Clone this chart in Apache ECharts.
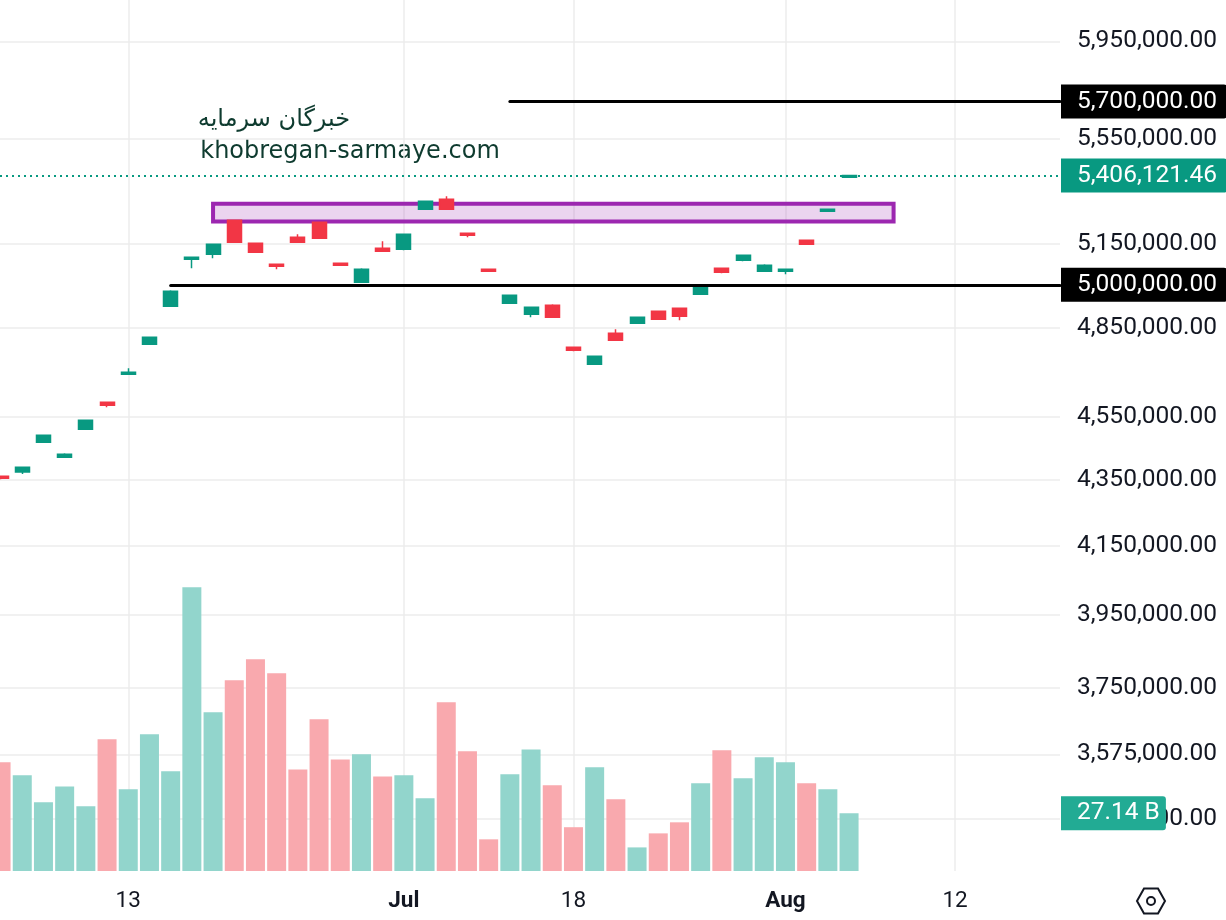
<!DOCTYPE html>
<html>
<head>
    <meta charset="utf-8">
    <title>khobregan-sarmaye</title>
    <script src="https://cdn.jsdelivr.net/npm/echarts@6.0.0/dist/echarts.min.js"></script>
    <style>html, body { margin: 0; padding: 0; background: #fff; }</style>
</head>
<body>
<div id="main" style="width: 1226px;height:920px"></div>
<script type="text/javascript">

    // daily candles (index = trading day on the x axis)
    var openP = [4360600, 4374000, 4467900, 4420200, 4509500, 4597300, 4690300, 4791800, 4923700, 5091800,
        5110000, 5235700, 5150400, 5073700, 5172500, 5228300, 5077300, 5008900, 5132000, 5128400,
        5277000, 5314800, 5187300, 5055700, 4934300, 4895700, 4927300, 4781600, 4723900, 4829700,
        4864200, 4906200, 4916700, 4966100, 5059200, 5088300, 5048400, 5048400, 5161400, 5269500, 5399000];
    var closeP = [4354400, 4388800, 4490200, 4429700, 4538600, 4587500, 4696900, 4815900, 4976800, 5099100,
        5146700, 5154100, 5117400, 5066500, 5154100, 5168800, 5070100, 5055700, 5121000, 5183600,
        5307200, 5277000, 5179900, 5048400, 4962600, 4920200, 4885200, 4771400, 4751000, 4805600,
        4885200, 4878200, 4888700, 4998100, 5044800, 5106400, 5070100, 5055700, 5146700, 5277000, 5406121.46];
    var lowP = [4351200, 4367800, 4467900, 4420200, 4509500, 4581000, 4690300, 4791800, 4923700, 5059200,
        5095500, 5154100, 5117400, 5055700, 5154100, 5168800, 5070100, 5008900, 5121000, 5124700,
        5277000, 5277000, 5172500, 5048400, 4934300, 4885200, 4885200, 4768000, 4723900, 4805600,
        4864200, 4878200, 4874700, 4966100, 5041200, 5084600, 5048400, 5037600, 5146700, 5269500, 5399000];
    var highP = [4360600, 4388800, 4490200, 4433000, 4538600, 4597300, 4710400, 4815900, 4980300, 5099100,
        5146700, 5235700, 5150400, 5073700, 5183600, 5228300, 5077300, 5059200, 5157800, 5183600,
        5307200, 5326200, 5187300, 5055700, 4962600, 4920200, 4930800, 4781600, 4751000, 4843500,
        4885200, 4906200, 4916700, 4998100, 5059200, 5106400, 5073700, 5055700, 5161400, 5277000, 5406121.46];
    // volume in billions
    var volumeB = [51.1, 45.0, 32.3, 39.8, 30.4, 62.0, 38.4, 64.3, 46.9, 133.5,
        74.7, 89.7, 99.6, 93.0, 47.8, 71.4, 52.5, 54.9, 44.5, 45.0,
        34.2, 79.4, 56.3, 14.9, 45.5, 57.2, 40.3, 20.6, 48.8, 33.7,
        11.1, 17.7, 22.9, 41.3, 56.8, 43.6, 53.5, 51.1, 41.3, 38.4, 27.14];

    // axis ticks
    var priceTicks = [3415000, 3575000, 3750000, 3950000, 4150000, 4350000, 4550000, 4850000, 5150000, 5550000, 5950000];
    var dayTicks = [6, 19, 27, 37, 45];
    var dayLabels = ['13', 'Jul', '18', 'Aug', '12'];

    // drawings: horizontal levels and the box
    var levelPrices = [5700000, 5000000];
    var levelStart = [24, 8];
    var zoneX = [10, 42.1];
    var zonePrice = [5298000, 5231000];

    var up = '#089981', down = '#f23645';
    var volUp = '#92d5cc', volDown = '#f9a9ae';
    var txt = '#131722';
    var xMin = -0.05, xMax = 49.95;
    var last = closeP.length - 1;
    var axisFont = 24.5;

    var fmtPrice = function (v) {
        return Number(v).toLocaleString('en-US', {minimumFractionDigits: 2, maximumFractionDigits: 2});
    };
    var boxLabel = function (text, bg, padRight) {
        return {
            show: true, position: 'end', distance: 1, formatter: text, opacity: 1,
            color: '#fff', backgroundColor: bg, fontFamily: 'Roboto', fontSize: axisFont, lineHeight: 22,
            padding: [6, padRight || 10, 6, 16], borderRadius: [0, 3, 3, 0]
        };
    };

    var candleData = openP.map(function (o, i) {
        return [i, o, closeP[i], lowP[i], highP[i]];
    });
    var volData = volumeB.map(function (v, i) {
        return {value: [i, v], itemStyle: {color: closeP[i] >= openP[i] ? volUp : volDown}};
    });

    var levelLines = levelPrices.map(function (p, k) {
        return [
            {coord: [levelStart[k], p], lineStyle: {color: '#000', width: 3, type: 'solid', cap: 'round'},
                label: boxLabel(fmtPrice(p), '#000')},
            {coord: [xMax, p]}
        ];
    });
    levelLines.push({
        yAxis: closeP[last],
        lineStyle: {color: up, width: 2, type: [2, 4]},
        label: boxLabel(fmtPrice(closeP[last]), up)
    });

    var myChart = echarts.init(document.getElementById('main'));

    myChart.setOption({
        animation: false,
        grid: {left: 0, right: 166, top: 0, bottom: 49},
        xAxis: {
            type: 'value', min: xMin, max: xMax,
            axisLine: {show: false},
            axisTick: {show: false, customValues: dayTicks},
            splitLine: {show: true, lineStyle: {color: '#ececec', width: 1.5}},
            axisLabel: {
                customValues: dayTicks,
                color: txt, fontFamily: 'Roboto', fontSize: 22.5, margin: 19,
                formatter: function (v) {
                    var s = dayLabels[dayTicks.indexOf(Math.round(v))] || '';
                    return isNaN(Number(s)) ? '{m|' + s + '}' : s;
                },
                rich: {m: {fontWeight: 'bold', fontFamily: 'Roboto', fontSize: 22.5, color: txt}}
            }
        },
        yAxis: [
            {
                type: 'log', logBase: 10, position: 'right',
                min: 3289000, max: 6128200,
                axisLine: {show: false},
                axisTick: {show: false, customValues: priceTicks},
                splitLine: {show: true, lineStyle: {color: '#ececec', width: 1.5}},
                axisLabel: {
                    customValues: priceTicks, formatter: fmtPrice,
                    color: txt, fontFamily: 'Roboto', fontSize: axisFont, margin: 17
                }
            },
            {type: 'value', min: 0, max: 409.7, show: false, splitLine: {show: false}}
        ],
        graphic: [
            {type: 'text', x: 274, y: 108, style: {text: 'خبرگان سرمایه', fill: '#0e3b2f',
                font: '24px "DejaVu Sans"', textAlign: 'center'}},
            {type: 'text', x: 350, y: 140, style: {text: 'khobregan-sarmaye.com', fill: '#0e3b2f',
                font: '24px "DejaVu Sans"', textAlign: 'center'}},
            {type: 'polygon', shape: {points: [[1137, 901], [1144, 888.5], [1158, 888.5], [1165, 901], [1158, 913.5], [1144, 913.5]]},
                style: {fill: 'none', stroke: txt, lineWidth: 2}},
            {type: 'circle', shape: {cx: 1151, cy: 901, r: 4}, style: {fill: 'none', stroke: txt, lineWidth: 2}}
        ],
        series: [
            {
                type: 'bar', yAxisIndex: 1, barWidth: 19, data: volData,
                markLine: {
                    silent: true, symbol: ['none', 'none'],
                    data: [{yAxis: volumeB[last], lineStyle: {color: 'rgba(0,0,0,0)', width: 0},
                        label: boxLabel(volumeB[last].toFixed(2) + ' B', '#22ab94', 6)}]
                }
            },
            {
                type: 'candlestick', barWidth: 14.5,
                encode: {x: 0, y: [1, 2, 3, 4]},
                data: candleData,
                itemStyle: {color: up, color0: down, borderColor: up, borderColor0: down, borderWidth: 1.5},
                markArea: {
                    silent: true,
                    itemStyle: {color: 'rgba(156,39,176,0.2)', borderColor: '#9c27b0', borderWidth: 4},
                    data: [[{coord: [zoneX[0], zonePrice[0]]}, {coord: [zoneX[1], zonePrice[1]]}]]
                },
                markLine: {
                    silent: true, symbol: ['none', 'none'],
                    data: levelLines
                }
            }
        ]
    });
</script>
</body>
</html>
